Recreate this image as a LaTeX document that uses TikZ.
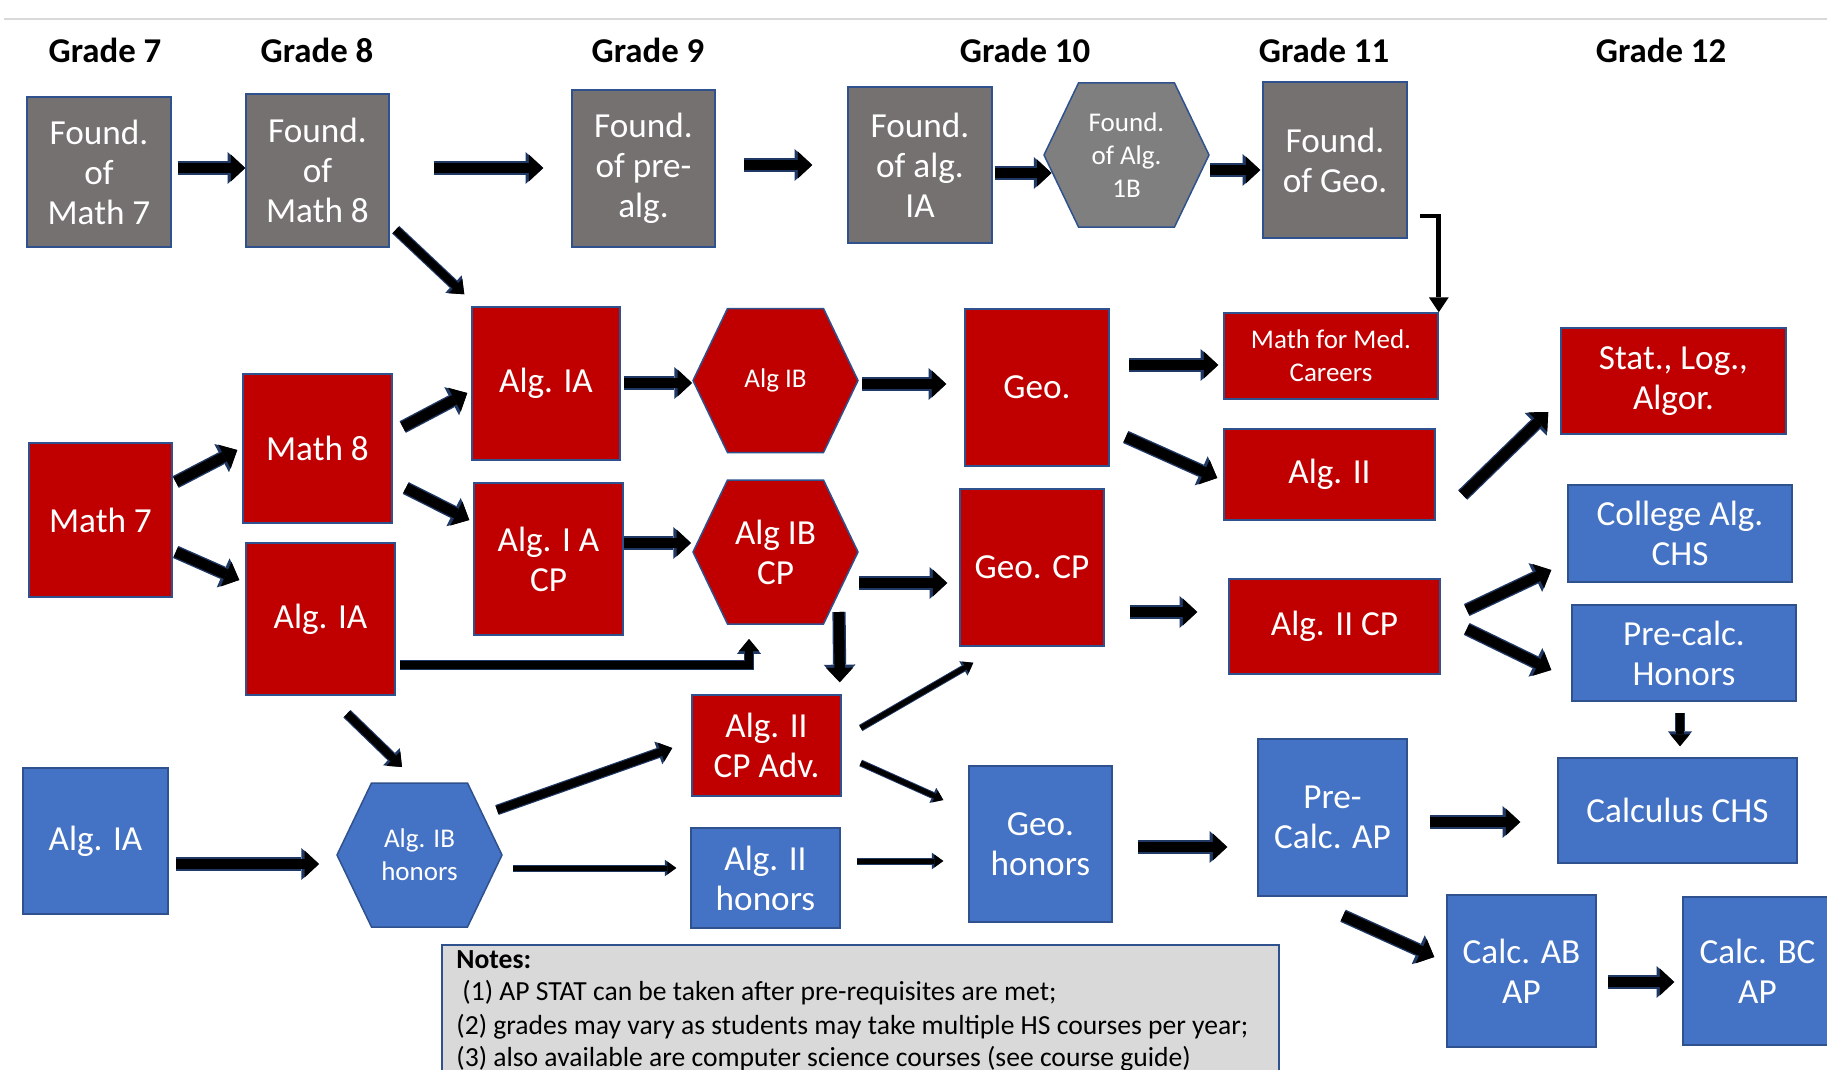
\documentclass[tikz,border=0pt]{standalone}
\usepackage{fontspec}
\setmainfont{Carlito}
\usetikzlibrary{arrows.meta,calc}
\definecolor{boxgray}{HTML}{767171}
\definecolor{hexgray}{HTML}{7F7F7F}
\definecolor{cred}{HTML}{C00000}
\definecolor{cblue}{HTML}{4472C4}
\definecolor{rim}{HTML}{2F528F}
\definecolor{arrim}{HTML}{1F3864}
\definecolor{notefill}{HTML}{D9D9D9}
\definecolor{topgray}{HTML}{D9D9D9}
\newcommand\txtbig{\fontsize{17.6}{20}\selectfont}
\newcommand\txtsmall{\fontsize{13.5}{16.5}\selectfont}
\newcommand\txtgrade{\fontsize{17.4}{20}\selectfont\bfseries}
\newcommand\txtnote{\fontsize{13.8}{16.5}\selectfont}
\newcommand\myhex[2]{\draw[hexshape, fill=#2] ($(#1)+(-82.5,0)$) -- ($(#1)+(-48,-72)$) -- ($(#1)+(48,-72)$) -- ($(#1)+(82.5,0)$) -- ($(#1)+(48,72)$) -- ($(#1)+(-48,72)$) -- cycle;}
\begin{document}
\begin{tikzpicture}[x=0.5pt,y=-0.5pt,
  box/.style={draw=rim, line width=0.75pt, text=white, align=center, inner sep=0pt, font=\txtbig},
  gbox/.style={box, fill=boxgray},
  rbox/.style={box, fill=cred},
  bbox/.style={box, fill=cblue},
  sz/.style 2 args={minimum width=#1pt, minimum height=#2pt},
  hexshape/.style={draw=rim, line width=0.75pt},
  hexlabel/.style={text=white, align=center, inner sep=0pt},
  grade/.style={font=\txtgrade, inner sep=0pt},
  notebox/.style={draw=rim, line width=0.75pt, fill=notefill, inner sep=0pt},
  notetxt/.style={inner sep=0pt, font=\txtnote},
  bigarr/.style={draw=black, line width=5.2pt, line join=miter, -{Triangle[width=13.5pt,length=7.2pt,line width=0pt]},
    preaction={draw=arrim, line width=6.6pt, -{Triangle[width=15.9pt,length=8.8pt,line width=0pt]}}},
  midarr/.style={draw=black, line width=4pt, line join=miter, -{Triangle[width=10pt,length=6pt,line width=0pt]},
    preaction={draw=arrim, line width=5.2pt, -{Triangle[width=12pt,length=7.4pt,line width=0pt]}}},
  thinarr/.style={draw=black, line width=2.5pt, line join=miter, -{Triangle[width=6.5pt,length=4.5pt,line width=0pt]},
    preaction={draw=arrim, line width=3.5pt, -{Triangle[width=8.3pt,length=5.7pt,line width=0pt]}}},
  elbowarr/.style={draw=black, line width=2.4pt, line join=miter, -{Triangle[width=10pt,length=7.5pt,line width=0pt]}},
]
\useasboundingbox (0,0) rectangle (1827,1070);
\fill[white] (0,0) rectangle (1827,1070);
\clip (0,0) rectangle (1827,1070);

\draw[topgray, line width=1pt] (4,19) -- (1827,19);

% grade headings
\node[grade] (g7) at (105,50) {Grade 7};
\node[grade] (g8) at (317,50) {Grade 8};
\node[grade] (g9) at (648,50) {Grade 9};
\node[grade] (g10) at (1025,50) {Grade 10};
\node[grade] (g11) at (1324,50) {Grade 11};
\node[grade] (g12) at (1661,50) {Grade 12};

% foundation row
\node[gbox, sz={72}{75}] (fm7) at (99,172) {Found.\\of\\Math 7};
\node[gbox, sz={71.5}{76.5}] (fm8) at (317.5,170.5) {Found.\\of\\Math 8};
\node[gbox, sz={71.5}{78.5}] (fpre) at (643.5,168.5) {Found.\\of pre-\\alg.};
\node[gbox, sz={72}{78}] (fia) at (920,165) {Found.\\of alg.\\IA};
\coordinate (f1bc) at (1126.5,155);
\myhex{f1bc}{hexgray}
\node[hexlabel, font=\txtsmall] (f1b) at (f1bc) {Found.\\of Alg.\\1B};
\node[gbox, sz={72}{78}] (fgeo) at (1335,160) {Found.\\of Geo.};

% red (CP) track
\node[rbox, sz={74}{76.5}] (aia) at (546,383.5) {Alg. IA};
\coordinate (aibc) at (775.5,380.5);
\myhex{aibc}{cred}
\node[hexlabel, font=\txtsmall] (aib) at (aibc) {Alg IB};
\node[rbox, sz={71.5}{77}] (m7) at (100.5,520) {Math 7};
\node[rbox, sz={74.5}{74.5}] (m8) at (317.5,448.5) {Math 8};
\node[rbox, sz={74.5}{76}] (aia2) at (320.5,619) {Alg. IA};
\node[rbox, sz={74.5}{76}] (aiacp) at (548.5,559) {Alg. I A\\CP};
\coordinate (aibcpc) at (775.5,552);
\myhex{aibcpc}{cred}
\node[hexlabel, font=\txtbig] (aibcp) at (aibcpc) {Alg IB\\CP};
\node[rbox, sz={72}{78.5}] (geo) at (1037,387.5) {Geo.};
\node[rbox, sz={107}{43}, font=\txtsmall] (mmc) at (1331,356) {Math for Med.\\Careers};
\node[rbox, sz={112.5}{53}] (stat) at (1673.5,381) {Stat., Log.,\\Algor.};
\node[rbox, sz={105.5}{45.5}] (alg2) at (1329.5,474.5) {Alg. II};
\node[rbox, sz={72}{78.5}] (geocp) at (1032,567.5) {Geo. CP};
\node[rbox, sz={105.5}{47.5}] (alg2cp) at (1334.5,626.5) {Alg. II CP};
\node[rbox, sz={74.5}{50.5}] (a2adv) at (766.5,745.5) {Alg. II\\CP Adv.};

% blue (honors) track
\node[bbox, sz={112}{48.5}] (coll) at (1680,533.5) {College Alg.\\CHS};
\node[bbox, sz={112}{48}] (prch) at (1684,653) {Pre-calc.\\Honors};
\node[bbox, sz={72.5}{73}] (aiab) at (95.5,841) {Alg. IA};
\coordinate (ibhc) at (419.5,855);
\myhex{ibhc}{cblue}
\node[hexlabel, font=\txtsmall] (ibh) at (ibhc) {Alg. IB\\honors};
\node[bbox, sz={74.5}{50}] (a2h) at (765.5,878) {Alg. II\\honors};
\node[bbox, sz={71.5}{78}] (geoh) at (1040.5,844) {Geo.\\honors};
\node[bbox, sz={74.5}{78.5}] (pcap) at (1332.5,817.5) {Pre-\\Calc. AP};
\node[bbox, sz={119.5}{52.5}] (cchs) at (1677.5,810.5) {Calculus CHS};
\node[bbox, sz={74.5}{76}] (cab) at (1521.5,971) {Calc. AB\\AP};
\node[bbox, sz={74.5}{74}] (cbc) at (1757.5,971) {Calc. BC\\AP};

% notes
\node[notebox, anchor=north west, minimum width=418.5pt, minimum height=75pt] (notes) at (441,944) {};
\node[notetxt, anchor=base west, font=\txtnote\bfseries] (n0) at ($(notes.north west)+(15,24)$) {Notes:};
\node[notetxt, anchor=base west] (n1) at ($(notes.north west)+(21,56)$) {(1) AP STAT can be taken after pre-requisites are met;};
\node[notetxt, anchor=base west] (n2) at ($(notes.north west)+(15,90)$) {(2) grades may vary as students may take multiple HS courses per year;};
\node[notetxt, anchor=base west] (n3) at ($(notes.north west)+(15,122)$) {(3) also available are computer science courses (see course guide)};

% arrows: foundation row
\draw[bigarr] ($(fm7.east)+(6,-4)$) -- ($(fm8.west)+(0,-2.5)$);
\draw[bigarr] ($(fm8.east)+(44,-2.5)$) -- ($(fpre.west)+(-28,-0.5)$);
\draw[bigarr] ($(fpre.east)+(28,-3.5)$) -- ($(fia.west)+(-35,0)$);
\draw[bigarr] ($(fia.east)+(2,8)$) -- ($(f1b)+(-75,18)$);
\draw[bigarr] ($(f1b)+(83.5,15)$) -- ($(fgeo.west)+(-2,10)$);
\draw[elbowarr] ($(fgeo.east)+(12,56)$) -| (mmc.north east);
\draw[midarr] ($(fm8.south east)+(6,-18)$) -- ($(aia.north west)+(-7,-12)$);

% arrows: middle
\draw[bigarr] ($(m7.east)+(3,-38)$) -- ($(m8.west)+(-5,1.5)$);
\draw[bigarr] ($(m7.east)+(3,32)$) -- ($(aia2.west)+(-6,-39)$);
\draw[bigarr] ($(m8.east)+(10,-21.5)$) -- ($(aia.west)+(-4,9.5)$);
\draw[bigarr] ($(m8.east)+(13,39.5)$) -- ($(aiacp.west)+(-4,-39)$);
\draw[bigarr] ($(aia.east)+(3,-0.5)$) -- ($(aib)+(-83.5,2.5)$);
\draw[bigarr] ($(aiacp.east)+(0,-16)$) -- ($(aibcp)+(-84.5,-9)$);
\draw[bigarr] ($(aib)+(86.5,3.5)$) -- ($(geo.west)+(-18,-3.5)$);
\draw[bigarr] ($(aibcp)+(83.5,31)$) -- ($(geocp.west)+(-12,15.5)$);
\draw[midarr] ($(aia2.east)+(4,46)$) -| ($(aibcp)+(-26.5,87)$);
\draw[bigarr] ($(aibcp)+(63.5,60)$) -- ($(a2adv.north east)+(-2,-12)$);
\draw[bigarr] ($(geo.east)+(19,-22.5)$) -- ($(mmc.west)+(-5,9)$);
\draw[bigarr] ($(geo.east)+(16,49.5)$) -- ($(alg2.west)+(-6,3.5)$);
\draw[bigarr] ($(alg2.east)+(27,20.5)$) -- ($(stat.west)+(-12,31)$);
\draw[bigarr] ($(geocp.east)+(25,44.5)$) -- ($(alg2cp.west)+(-31,-14.5)$);
\draw[bigarr] ($(alg2cp.east)+(26,-16.5)$) -- ($(coll.west)+(-16,36.5)$);
\draw[bigarr] ($(alg2cp.east)+(26,2.5)$) -- ($(prch.west)+(-20,17)$);
\draw[midarr] ($(prch.south)+(-4,11)$) -- ($(cchs.north)+(2.5,-11)$);

% arrows: bottom
\draw[midarr] ($(aia2.south)+(26.5,18)$) -- ($(ibh)+(-17.5,-88)$);
\draw[bigarr] ($(aiab.east)+(7,23)$) -- ($(ibh)+(-100.5,9)$);
\draw[midarr] ($(ibh)+(77.5,-45)$) -- ($(a2adv.west)+(-19,2.5)$);
\draw[thinarr] ($(ibh)+(93.5,13)$) -- ($(a2h.west)+(-14,-10)$);
\draw[thinarr] ($(a2adv.east)+(19,-17.5)$) -- ($(geocp.south west)+(14,16)$);
\draw[thinarr] ($(a2adv.east)+(19,17.5)$) -- ($(geoh.west)+(-25,-44)$);
\draw[thinarr] ($(a2h.east)+(16,-17)$) -- ($(geoh.west)+(-25,17)$);
\draw[bigarr] ($(geoh.east)+(25,3)$) -- ($(pcap.west)+(-30,29.5)$);
\draw[bigarr] ($(pcap.east)+(22,4.5)$) -- ($(cchs.west)+(-37,11.5)$);
\draw[bigarr] ($(pcap.south)+(10.5,19)$) -- ($(cab.west)+(-12,-14)$);
\draw[bigarr] ($(cab.east)+(11,11)$) -- ($(cbc.west)+(-8,11)$);
\end{tikzpicture}
\end{document}
